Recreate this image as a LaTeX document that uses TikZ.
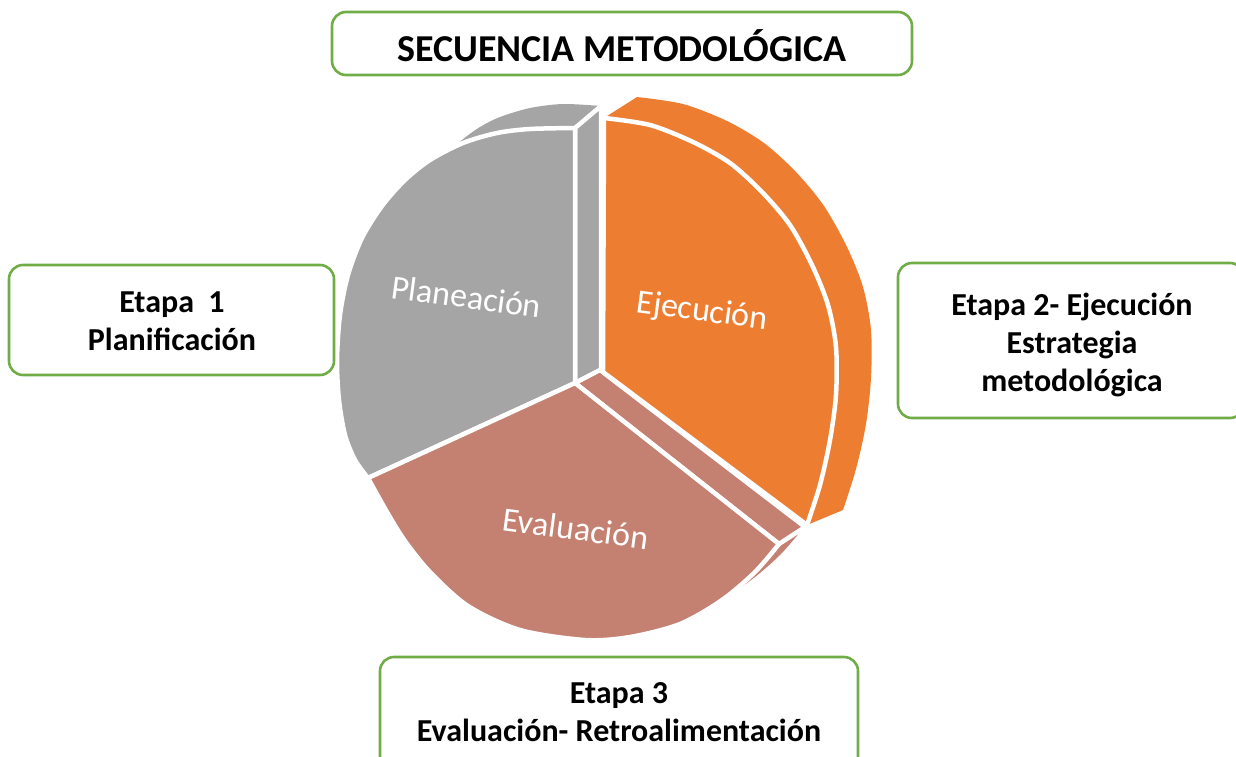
\documentclass[tikz,border=0pt]{standalone}
\usepackage{fontspec}
\setmainfont{Carlito}
\definecolor{pgray}{HTML}{A5A5A5}
\definecolor{porange}{HTML}{ED7D31}
\definecolor{ppink}{HTML}{C48071}
\definecolor{boxgreen}{HTML}{70AD47}
\tikzset{
  stagebox/.style={draw=boxgreen, line width=2.6pt, rounded corners=14pt, fill=white, inner sep=0pt},
  stagetext/.style={anchor=base, inner sep=0pt, font=\fontsize{32}{38}\selectfont\bfseries},
  titletext/.style={anchor=base, inner sep=0pt, font=\fontsize{38}{44}\selectfont\bfseries},
  slicetext/.style={anchor=base, inner sep=0pt, text=white, rotate=-7.6, font=\fontsize{34}{40}\selectfont},
  faceline/.style={draw=white, line width=4.5pt, line join=round}
}
\begin{document}
\begin{tikzpicture}[x=1pt,y=-1pt]
\useasboundingbox (0,0) rectangle (1236,757);
\clip (0,0) rectangle (1236,757);
% ---------- back faces / extrusions ----------
\fill[pgray] plot[smooth] coordinates {(446,156) (462,140) (480,127) (500,117) (530,108) (563,104) (601,106)} -- (601,370) -- (500,370) -- cycle;
\fill[ppink, shift={(25,-17)}] (575,383) -- (368,478) -- plot[smooth] coordinates {(368,478) (387,512) (405,541) (430,572) (468,606) (520,630) (585,640) (630,637) (680,624) (722,600) (755,572) (779,544)} -- cycle;
\fill[porange] plot[smooth] coordinates {(604,118) (650,125) (693,142) (730,163) (762,192) (790,225) (812,265) (828,305) (836,347) (836,395) (830,440) (820,485) (807,525)}
  -- plot[smooth] coordinates {(843,510) (856,469) (866,424) (871,378) (871,330) (863,287) (847,247) (824,206) (796,172) (764,143) (727,121) (683,104) (637,97)} -- cycle;
% ---------- side walls ----------
\path[fill=pgray, faceline] (575,383) -- (575,128) -- (601,106) -- (601,370) -- cycle;
\path[fill=ppink, faceline] (575,383) -- (779,544) -- (805,527) -- (600,370) -- cycle;
% ---------- front faces ----------
\path[fill=pgray, faceline] (575,383) -- (575,128) -- plot[smooth] coordinates {(575,128) (530,129) (497,133) (463,143) (430,160) (405,180) (382,206) (362,238) (348,275) (340,315) (337,360) (339,400) (345,435) (355,460) (368,478)} -- cycle;
\path[fill=ppink, faceline] (575,383) -- (368,478) -- plot[smooth] coordinates {(368,478) (387,512) (405,541) (430,572) (468,606) (520,630) (585,640) (630,637) (680,624) (722,600) (755,572) (779,544)} -- cycle;
\path[fill=porange, faceline] (603,372) -- (604,118) -- plot[smooth] coordinates {(604,118) (650,125) (693,142) (730,163) (762,192) (790,225) (812,265) (828,305) (836,347) (836,395) (830,440) (820,485) (807,525)} -- cycle;
% ---------- slice labels ----------
\node[slicetext] (lplan) at (465,308) {Planeación};
\node[slicetext] (lejec) at (701,321) {Ejecución};
\node[slicetext] (leval) at (574,540) {Evaluación};
% ---------- boxes ----------
\node[stagebox, minimum width=580pt, minimum height=63pt] (titlebox) at (622,43.5) {};
\node[titletext] (title) at (622,62) {SECUENCIA METODOLÓGICA};
\node[stagebox, minimum width=325pt, minimum height=110pt] (box1) at (171.5,320) {};
\node[stagetext] (t1a) at (172,312) {Etapa~~1};
\node[stagetext] (t1b) at (172,350) {Planificación};
\node[stagebox, minimum width=346pt, minimum height=155pt] (box2) at (1071,340.5) {};
\node[stagetext] (t2a) at (1072,315) {Etapa 2- Ejecución};
\node[stagetext] (t2b) at (1072,353) {Estrategia};
\node[stagetext] (t2c) at (1072,391) {metodológica};
\node[stagebox, minimum width=478pt, minimum height=123pt] (box3) at (619,718.5) {};
\node[stagetext] (t3a) at (619,703) {Etapa 3};
\node[stagetext] (t3b) at (619,741) {Evaluación- Retroalimentación};
\end{tikzpicture}
\end{document}
